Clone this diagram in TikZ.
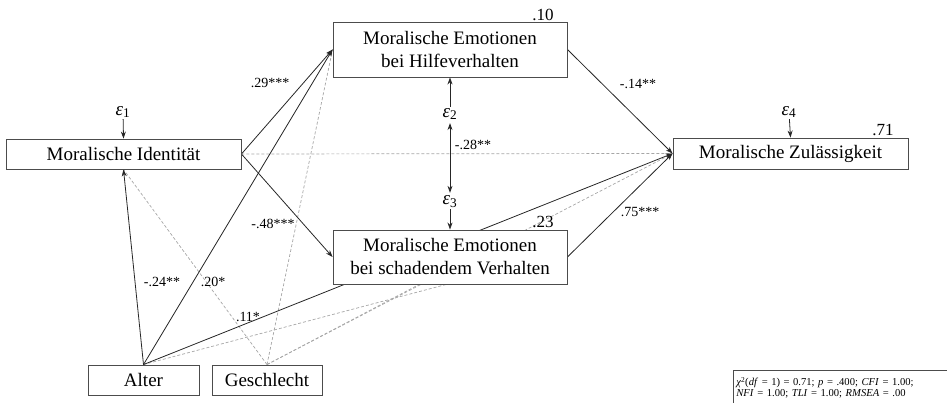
\documentclass[tikz,border=0pt]{standalone}
\usepackage{fontspec}
\setmainfont{Liberation Serif}
\usetikzlibrary{arrows.meta,backgrounds,calc}
\begin{document}
\begin{tikzpicture}[x=1pt,y=-1pt,
  varbox/.style={draw=black!70, line width=0.9pt, fill=white, inner sep=0pt, align=center,
    font=\fontsize{19}{23}\selectfont},
  pathlbl/.style={font=\fontsize{14}{16}\selectfont, inner sep=0pt},
  rsq/.style={font=\fontsize{17}{19}\selectfont, inner sep=0pt},
  errlbl/.style={font=\fontsize{19}{21}\selectfont, inner sep=0pt},
  sigpath/.style={draw=black!85, line width=0.8pt, -{Stealth[length=7pt,width=5pt]}},
  nspath/.style={draw=black!35, line width=0.7pt, dash pattern=on 3pt off 2pt},
]
\useasboundingbox (0,0) rectangle (947,403);

% variables
\node[varbox, minimum width=235pt, minimum height=30pt] (MI) at (123.5,154) {Moralische Identität};
\node[varbox, minimum width=234pt, minimum height=55pt] (MEH) at (450,49.5) {Moralische Emotionen\\bei Hilfeverhalten};
\node[varbox, minimum width=234pt, minimum height=54pt] (MES) at (450,257) {Moralische Emotionen\\bei schadendem Verhalten};
\node[varbox, minimum width=235pt, minimum height=31pt] (MZ) at (790.5,153.5) {Moralische Zulässigkeit};
\node[varbox, minimum width=111pt, minimum height=30pt] (AL) at (143.5,380) {Alter};
\node[varbox, minimum width=110pt, minimum height=30pt] (GE) at (267,380) {Geschlecht};

% error terms
\node[errlbl] (E1) at (123,112) {{\itshape ε}\textsubscript{1}};
\node[errlbl] (E2) at (450,114) {{\itshape ε}\textsubscript{2}};
\node[errlbl] (E3) at (450,202) {{\itshape ε}\textsubscript{3}};
\node[errlbl] (E4) at (789,112) {{\itshape ε}\textsubscript{4}};

% explained variance
\node[rsq] (R1) at (543,15) {.10};
\node[rsq] (R2) at (543,222) {.23};
\node[rsq] (R3) at (883,130) {.71};

% fit box
\node[draw=black!70, line width=0.7pt, anchor=north west, inner xsep=3pt, inner ysep=2.5pt,
  text width=214pt, minimum height=35pt, align=left,
  font=\fontsize{10.6}{11}\selectfont] (FIT) at (733,370)
  {{\itshape χ}\textsuperscript{2}(\textit{df} = 1) = 0.71; \textit{p} = .400; \textit{CFI} = 1.00;\\
   \textit{NFI} = 1.00; \textit{TLI} = 1.00; \textit{RMSEA} = .00};

\coordinate (MESb1) at (420,284);
\coordinate (MESb2) at (448,284);

\begin{pgfonlayer}{background}
  % non-significant paths
  \draw[nspath] (MI.east) -- (MZ.west);
  \draw[nspath] (GE.north) -- (MI.south);
  \draw[nspath] (GE.north) -- (MEH.west);
  \draw[nspath] (GE.north) -- (MESb1);
  \draw[nspath] (GE.north) -- (MZ.west);
  \draw[nspath] (AL.north) -- (MESb2);
  % significant paths
  \draw[sigpath] (MI.east) -- (MEH.west);
  \draw[sigpath] (MI.east) -- (MES.west);
  \draw[sigpath] (AL.north) -- (MI.south);
  \draw[sigpath] (AL.north) -- (MEH.west);
  \draw[sigpath] (AL.north) -- (MZ.west);
  \draw[sigpath] (MEH.east) -- (MZ.west);
  \draw[sigpath] (MES.east) -- (MZ.west);
\end{pgfonlayer}

% error arrows
\draw[sigpath, shorten <=1pt] (E1) -- (MI.north);
\draw[sigpath, shorten <=1pt] (E2) -- (MEH.south);
\draw[sigpath, shorten <=1pt] (E3) -- (MES.north);
\draw[sigpath, shorten <=1pt] (E4) -- (MZ.north);
\draw[sigpath, {Stealth[length=7pt,width=5pt]}-{Stealth[length=7pt,width=5pt]}, shorten <=3pt, shorten >=3pt] (E2) -- (E3);

% path labels
\node[pathlbl] (L1) at (270,83) {.29***};
\node[pathlbl] (L2) at (273,224) {-.48***};
\node[pathlbl] (L3) at (162,282) {-.24**};
\node[pathlbl] (L4) at (213,282) {.20*};
\node[pathlbl] (L5) at (248,317) {.11*};
\node[pathlbl] (L6) at (638,84) {-.14**};
\node[pathlbl] (L7) at (640,212) {.75***};
\node[pathlbl] (L8) at (473,145) {-.28**};
\end{tikzpicture}
\end{document}
